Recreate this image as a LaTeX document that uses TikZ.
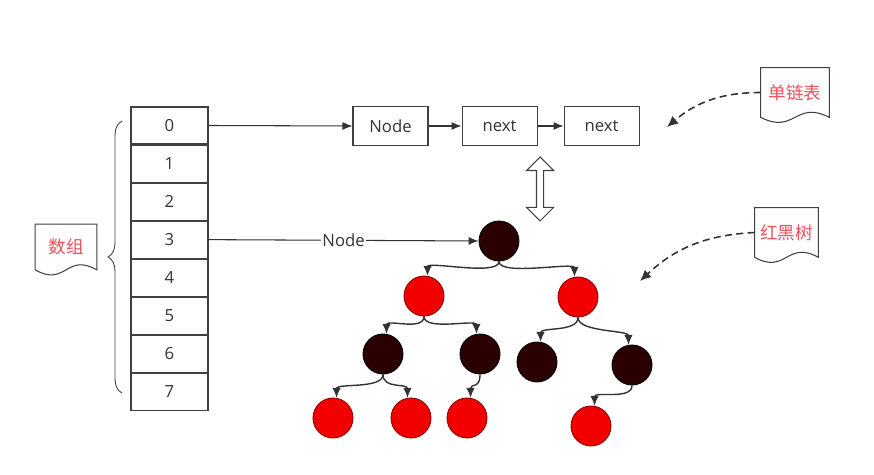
\documentclass[tikz,border=0pt]{standalone}
\usepackage{fontspec}
\setmainfont{Open Sans}
\newfontfamily\cjk{Noto Sans CJK SC}
\usepackage{tikz}
\usetikzlibrary{calc,arrows.meta,positioning,shapes.arrows,decorations.pathreplacing}
\definecolor{figink}{HTML}{333333}
\definecolor{boxedge}{HTML}{404040}
\definecolor{rbblack}{HTML}{2A0000}
\definecolor{rbred}{HTML}{F20000}
\definecolor{rbrededge}{HTML}{8A0000}
\definecolor{notered}{HTML}{F0505C}

\begin{document}
\begin{tikzpicture}[
    x=0.02cm, y=-0.02cm,
    every node/.style={font=\fontsize{9.5}{11}\selectfont, text=figink},
    cell/.style={draw=boxedge, line width=0.6pt, minimum width=1.54cm, minimum height=0.74cm, inner sep=0pt},
    listbox/.style={draw=boxedge, line width=0.6pt, minimum width=1.5cm, minimum height=0.78cm, inner sep=0pt},
    blacknode/.style={circle, fill=rbblack, draw=black, line width=0.5pt, minimum size=0.8cm, inner sep=0pt},
    rednode/.style={circle, fill=rbred, draw=rbrededge, line width=0.5pt, minimum size=0.8cm, inner sep=0pt},
    doc/.style={minimum width=#1, minimum height=0.98cm, inner sep=0pt, text=notered, font=\cjk\fontsize{10}{12}\selectfont},
    docline/.style={draw=boxedge, line width=0.6pt},
    link/.style={-{Latex[length=2mm,width=1.6mm]}, figink, line width=0.6pt},
    treelink/.style={-{Latex[length=2mm,width=1.7mm]}, figink, line width=0.8pt},
    hint/.style={-{Latex[length=2.2mm,width=2mm]}, figink, line width=0.9pt, dash pattern=on 4pt off 2.5pt},
  ]
  \useasboundingbox (0,0) rectangle (874,475);

  \node[cell] (c0) at (169.5,125.5) {0};
  \foreach \i [remember=\i as \prev (initially 0)] in {1,...,7}
    \node[cell, below=0pt of c\prev] (c\i) {\i};
  \draw[boxedge, line width=0.5pt, decorate, decoration={brace, amplitude=0.28cm}]
    (122,393) -- (122,121);

  \node[doc=1.22cm, minimum height=0.9cm] (arrdoc) at (66,247) {数组};
  \node[doc=1.36cm] (lstdoc) at (795,92.5) {单链表};
  \node[doc=1.26cm] (treedoc) at (786.5,232.5) {红黑树};
  \foreach \d in {arrdoc,lstdoc,treedoc}
    \draw[docline] (\d.north west) -- (\d.north east) -- (\d.south east)
      .. controls ($(\d.south)+(0,0.35cm)$) and ($(\d.south)+(0,-0.35cm)$) .. (\d.south west) -- cycle;

  \node[listbox] (ln1) at (390.5,126) {Node};
  \node[listbox, right=0.66cm of ln1] (ln2) {next};
  \node[listbox, right=0.52cm of ln2] (ln3) {next};
  \draw[link] (c0.east) -- (ln1.west);
  \draw[link] (ln1) -- (ln2);
  \draw[link] (ln2) -- (ln3);

  \node[double arrow, draw=boxedge, fill=white, line width=0.6pt, shape border rotate=90,
    minimum height=1.28cm, minimum width=0.52cm, inner sep=0pt, inner xsep=0.06cm,
    double arrow head extend=0.2cm] (swap) at (540,189) {};

  \node[blacknode] (root) at (499,241) {};
  \node[rednode] (l) at (424,296) {};
  \node[rednode] (r) at (578,297) {};
  \node[blacknode] (ll) at (383,354) {};
  \node[blacknode] (lr) at (480,354) {};
  \node[blacknode] (rl) at (537,362) {};
  \node[blacknode] (rr) at (632,365) {};
  \node[rednode] (lll) at (333,418) {};
  \node[rednode] (llr) at (411,418) {};
  \node[rednode] (lrl) at (467,418) {};
  \node[rednode] (rrl) at (591,426) {};

  \draw[link] (c3.east) -- node[fill=white, inner sep=1pt] {Node} (root.west);

  \foreach \p/\c/\a in {root/l/80, root/r/100, l/ll/80, l/lr/100, r/rl/80, r/rr/100,
                        ll/lll/80, ll/llr/100, lr/lrl/80, rr/rrl/80}
    \draw[treelink] (\p.south) .. controls +(0,-0.3cm) and +(0,0.3cm) .. (\c.\a);

  \coordinate (lsttip) at (667,127);
  \coordinate (treetip) at (640,281);
  \draw[hint] (lstdoc.west) to[bend right=20] (lsttip);
  \draw[hint] (treedoc.west) to[bend right=20] (treetip);
\end{tikzpicture}
\end{document}
